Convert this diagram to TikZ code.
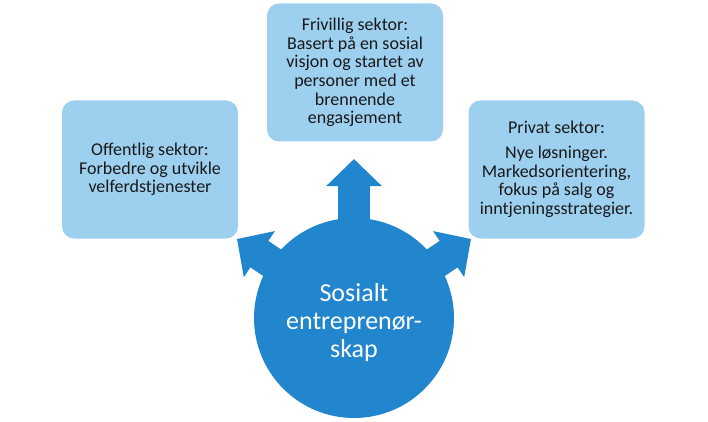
\documentclass[tikz,border=0pt]{standalone}
\usepackage{fontspec}
\setmainfont{Carlito}
\usepackage{xcolor}
\usepackage{tikz}
\usetikzlibrary{arrows.meta,positioning}

\definecolor{boxblue}{RGB}{157,207,239}
\definecolor{hubblue}{RGB}{33,134,206}

\begin{document}
\begin{tikzpicture}[
  x=1pt, y=-1pt,
  sector/.style={fill=boxblue, rounded corners=12pt, align=center,
                 minimum width=176pt, minimum height=138pt, inner sep=4pt,
                 font=\fontsize{18}{18.7}\selectfont, text=black!90},
  hub/.style={circle, fill=hubblue, minimum size=200pt, inner sep=0pt,
              align=center, text=white, font=\fontsize{26}{28}\selectfont},
  spoke/.style={draw=hubblue, line width=32pt,
                -{Triangle[width=54pt, length=27pt]}},
]
\useasboundingbox (0,0) rectangle (708,422);

\def\rT{72.5}  % top box
\def\rS{169.5} % side boxes

% ============ sectors =======================================================
\node[sector] (friv) at (355,\rT) {Frivillig sektor:\\
  Basert på en sosial\\ visjon og startet av\\ personer med et\\
  brennende\\ engasjement};
\node[sector] (off)  at (150,\rS) {Offentlig sektor:\\
  Forbedre og utvikle\\ velferdstjenester};
\node[sector] (priv) at (556.5,\rS) {Privat sektor:\\[6pt]
  Nye løsninger.\\ Markedsorientering,\\ fokus på salg og\\
  inntjeningsstrategier.};

% ============ hub and spokes ===============================================
\node[hub] (hub) at (354,318) {};
\coordinate (tipF) at (354,159);
\coordinate (tipO) at (237,239);
\coordinate (tipP) at (471,239);

\draw[spoke] (hub.center) -- (tipF);
\draw[spoke] (hub.center) -- (tipO);
\draw[spoke] (hub.center) -- (tipP);

\node[hub, fill=none] at ([yshift=-5pt]hub.center) {Sosialt\\ entreprenør-\\ skap};

\end{tikzpicture}
\end{document}
